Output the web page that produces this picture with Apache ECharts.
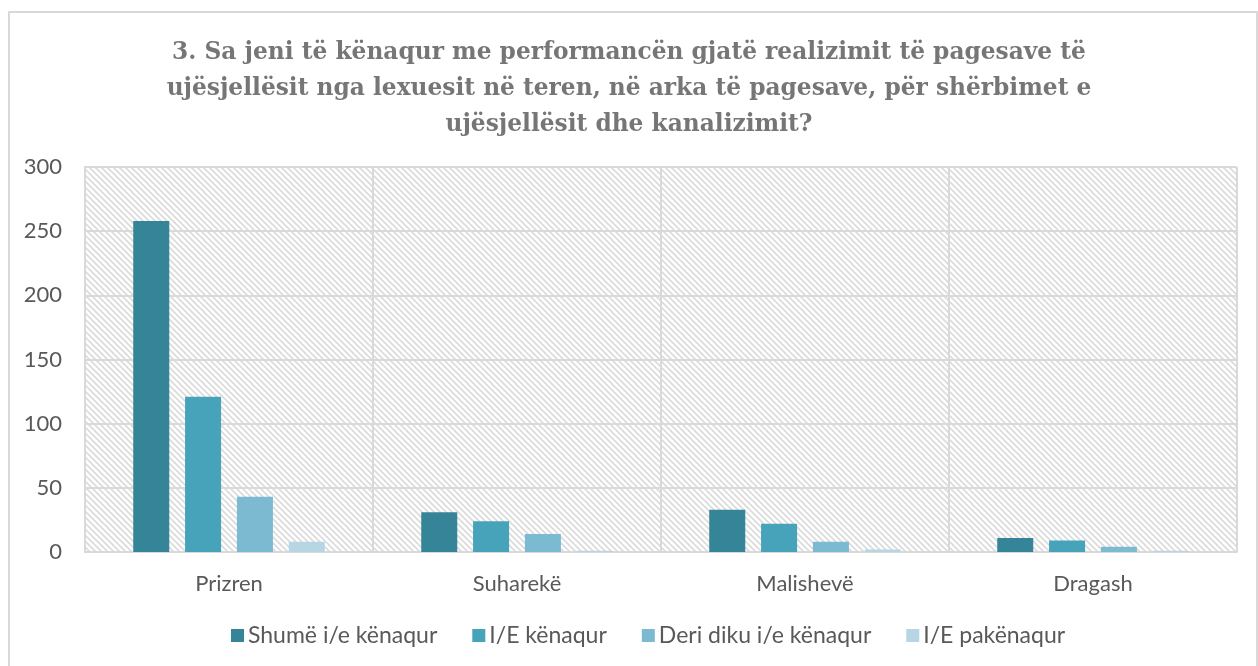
<!DOCTYPE html>
<html>
<head>
<meta charset="utf-8">
<script src="https://cdn.jsdelivr.net/npm/echarts@6/dist/echarts.min.js"></script>
<style>
  html, body { margin: 0; padding: 0; background: #fff; }
  #chart { width: 1258px; height: 666px; }
  .frame {
    position: absolute; left: 8px; top: 11px; right: 0px; bottom: -10px;
    border: 2px solid #d9d9d9;
    pointer-events: none;
  }
</style>
</head>
<body>
<div id="chart"></div>
<div class="frame"></div>
<script>
// data
const categories = ['Prizren', 'Suharekë', 'Malishevë', 'Dragash']
const seriesNames = ['Shumë i/e kënaqur', 'I/E kënaqur', 'Deri diku i/e kënaqur', 'I/E pakënaqur']
const veryHappy = [258, 31, 33, 11]
const happy = [121, 24, 22, 9]
const somewhat = [43, 14, 8, 4]
const unhappy = [8, 1, 2, 1]
const yTicks = [0, 50, 100, 150, 200, 250, 300]

const colors = ['#368497', '#46a3ba', '#7bbad0', '#b5d6e2']
const titleText = '3. Sa jeni të kënaqur me performancën gjatë realizimit të pagesave të\n' +
  'ujësjellësit nga lexuesit në teren, në arka të pagesave, për shërbimet e\n' +
  'ujësjellësit dhe kanalizimit?'

// diagonal hatch used as plot background
const makeHatch = () => {
  const c = document.createElement('canvas')
  c.width = 6
  c.height = 6
  const ctx = c.getContext('2d')
  ctx.fillStyle = '#ffffff'
  ctx.fillRect(0, 0, 6, 6)
  ctx.strokeStyle = '#dadada'
  ctx.lineWidth = 1.6
  ctx.beginPath()
  ctx.moveTo(-1, -1); ctx.lineTo(7, 7)
  ctx.moveTo(-7, -1); ctx.lineTo(1, 7)
  ctx.moveTo(5, -1); ctx.lineTo(13, 7)
  ctx.stroke()
  return c
}

const chart = echarts.init(document.getElementById('chart'))
const font = 'Lato, "Liberation Sans", sans-serif'

const seriesData = [veryHappy, happy, somewhat, unhappy]

const option = {
  animation: false,
  color: colors,
  title: {
    text: titleText,
    left: 'center',
    top: 30,
    textStyle: {
      fontFamily: '"DejaVu Serif", serif',
      fontWeight: 'bold',
      fontSize: 23.3,
      lineHeight: 36,
      color: '#767676',
    },
  },
  legend: {
    data: seriesNames,
    bottom: 14,
    left: 226,
    icon: 'rect',
    itemWidth: 13,
    itemHeight: 13,
    itemGap: 35,
    textStyle: { fontFamily: font, fontSize: 23, color: '#595959', padding: [0, 0, 0, -1] },
  },
  grid: {
    left: 85,
    right: 21,
    top: 167,
    bottom: 114,
    show: true,
    borderWidth: 0,
    backgroundColor: { image: makeHatch(), repeat: 'repeat' },
  },
  xAxis: {
    type: 'category',
    data: categories,
    axisTick: { show: false },
    axisLine: { lineStyle: { color: '#d9d9d9', width: 2 } },
    splitLine: { show: true, lineStyle: { color: '#d9d9d9', width: 2 } },
    axisLabel: { fontFamily: font, fontSize: 22, color: '#595959', margin: 21 },
  },
  yAxis: {
    type: 'value',
    min: yTicks[0],
    max: yTicks[yTicks.length - 1],
    interval: 50,
    axisLine: { show: true, lineStyle: { color: '#d9d9d9', width: 2 } },
    axisTick: { show: false },
    splitLine: { lineStyle: { color: '#d9d9d9', width: 2 } },
    axisLabel: { fontFamily: font, fontSize: 22, color: '#595959', margin: 23 },
  },
  series: seriesNames.map((name, i) => ({
    name,
    type: 'bar',
    data: seriesData[i],
    barWidth: 36,
    barGap: '44%',
    itemStyle: { color: colors[i] },
  })),
}

chart.setOption(option)
</script>
</body>
</html>
